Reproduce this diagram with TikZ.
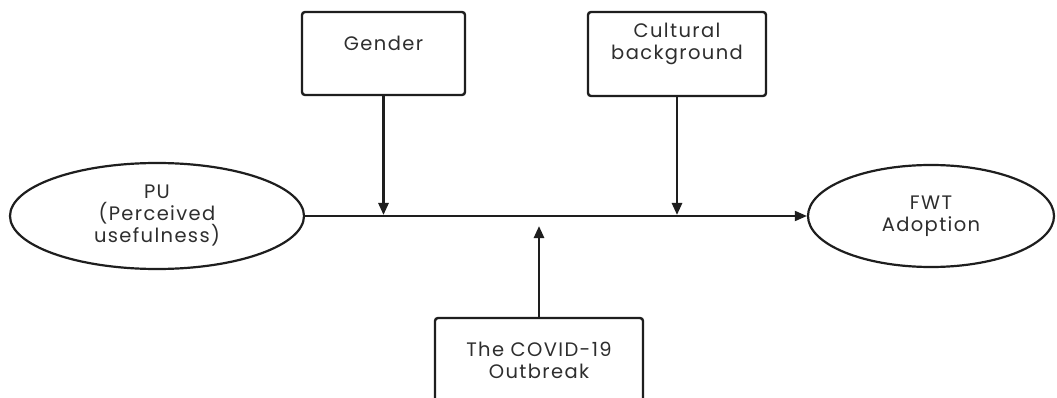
\documentclass[tikz,border=0pt]{standalone}
\usepackage{fontspec}
\setmainfont{Poppins}[LetterSpace=7]
\usetikzlibrary{arrows.meta,shapes.geometric}
\definecolor{txt}{HTML}{2E2E2E}
\definecolor{ln}{HTML}{1E1E1E}
\tikzset{
  box/.style={draw=ln,line width=2.4pt,rounded corners=3pt,inner sep=0pt},
  oval/.style={draw=ln,line width=2.2pt,ellipse,inner sep=0pt},
  lbl/.style={text=txt,font=\fontsize{19.5}{22}\selectfont,align=center,inner sep=0pt},
  conn/.style={draw=ln,line width=2.6pt,-{Triangle[length=12pt,width=10pt]}},
  mainconn/.style={conn,line width=1.8pt},
}
\begin{document}
\begin{tikzpicture}[x=1pt,y=-1pt]
\useasboundingbox (0,0) rectangle (1057,398);
\clip (0,0) rectangle (1057,398);
\fill[white] (0,0) rectangle (1057,398);
% ellipses
\node[oval,minimum width=294pt,minimum height=106pt] (pu) at (157,216) {};
\node[lbl] (putext) at (157,216) {PU\\(Perceived\\usefulness)};
\node[oval,minimum width=246pt,minimum height=102pt] (fwt) at (931,216) {};
\node[lbl] (fwttext) at (931,216) {FWT\\Adoption};
% boxes
\node[box,minimum width=163pt,minimum height=83pt] (gender) at (383.5,53.5) {};
\node[lbl] (gendertext) at (383.5,43) {Gender};
\node[box,minimum width=178pt,minimum height=84pt] (cult) at (677,54) {};
\node[lbl] (culttext) at (677,44) {Cultural\\background};
\node[box,minimum width=208pt,minimum height=120pt] (covid) at (539,378) {};
\node[lbl] (covidtext) at (539,360) {The COVID-19\\Outbreak};
% coordinates on main line
\coordinate (m1) at (383.5,215);
\coordinate (m2) at (677,215);
\coordinate (m3) at (539,226);
% connectors
\draw[mainconn] (pu.east) -- (fwt.west);
\draw[conn] (gender.south) -- (m1);
\draw[conn] (cult.south) -- (m2);
\draw[conn] (covid.north) -- (m3);
\end{tikzpicture}
\end{document}
